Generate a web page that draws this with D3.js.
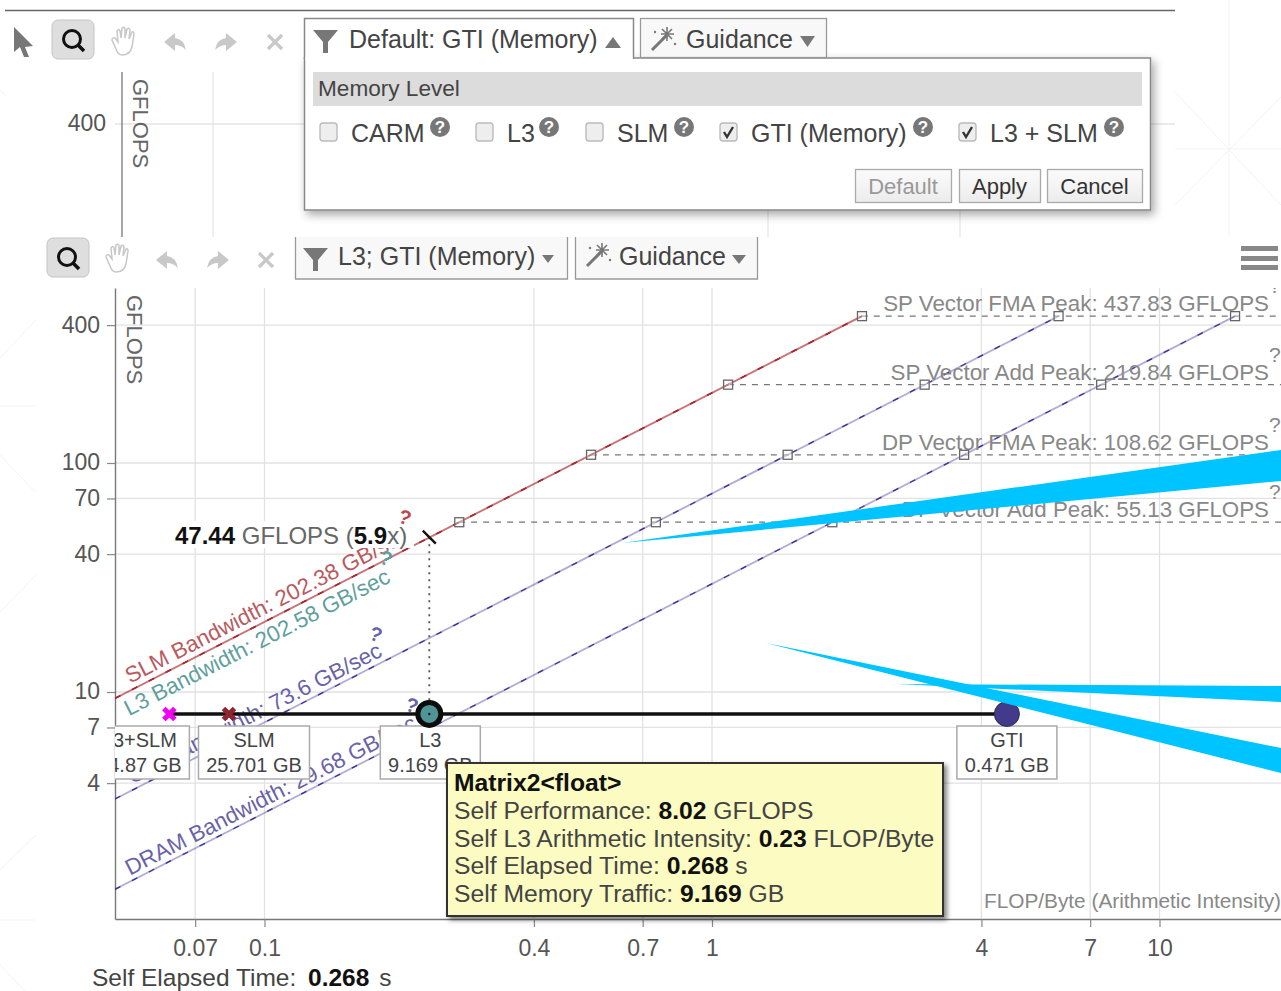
<!DOCTYPE html>
<html>
<head>
<meta charset="utf-8">
<script src="https://d3js.org/d3.v7.min.js"></script>
<style>
  html, body { margin: 0; padding: 0; background: #fff; }
  svg { display: block; }
  text { font-family: "Liberation Sans", Arial, sans-serif; }
</style>
</head>
<body>
<div id="my_dataviz"></div>
<script>
// roofs
var roofNames = ["SLM", "L3", "GTI", "DRAM"];
var roofValues = [202.38, 202.58, 73.6, 29.68];
// peaks
var peakNames = ["SP Vector FMA Peak", "SP Vector Add Peak", "DP Vector FMA Peak", "DP Vector Add Peak"];
var peakValues = [437.83, 219.84, 108.62, 55.13];
// memory levels of the selected loop
var levelNames = ["L3+SLM", "SLM", "L3", "GTI"];
var levelTraffic = ["34.87 GB", "25.701 GB", "9.169 GB", "0.471 GB"];
var levelIntensity = [0.0613, 0.0833, 0.2335, 4.56];
var selfGflops = 8.02;
var projectedGflops = 47.44;
// ticks
var xTicks = [0.07, 0.1, 0.4, 0.7, 1, 4, 7, 10];
var yTicks = [400, 100, 70, 40, 10, 7, 4];
var memoryOptions = ["CARM", "L3", "SLM", "GTI (Memory)", "L3 + SLM"];
var memoryChecked = [false, false, false, true, true];

var width = 1281, height = 991;
var svg = d3.select("#my_dataviz").append("svg").attr("width", width).attr("height", height);
var defs = svg.append("defs");

var shadow = defs.append("filter").attr("id", "shadow")
  .attr("x", "-5%").attr("y", "-10%").attr("width", "112%").attr("height", "125%");
shadow.append("feDropShadow").attr("dx", 3).attr("dy", 4).attr("stdDeviation", 5)
  .attr("flood-color", "#000").attr("flood-opacity", 0.35);
var shadow2 = defs.append("filter").attr("id", "shadowTip")
  .attr("x", "-5%").attr("y", "-10%").attr("width", "112%").attr("height", "125%");
shadow2.append("feDropShadow").attr("dx", 3).attr("dy", 3).attr("stdDeviation", 2.5)
  .attr("flood-color", "#000").attr("flood-opacity", 0.5);
var btnGrad = defs.append("linearGradient").attr("id", "btn").attr("x2", 0).attr("y2", 1);
btnGrad.append("stop").attr("offset", "0%").attr("stop-color", "#fbfbfb");
btnGrad.append("stop").attr("offset", "100%").attr("stop-color", "#ececec");
defs.append("clipPath").attr("id", "plotClip").append("rect")
  .attr("x", 115).attr("y", 288).attr("width", width - 115).attr("height", 632);

// faint page background
var bgLines = [
  [1175,149,1281,149],[1229,0,1229,237],[1175,92,1281,205],[1175,205,1281,97],
  [0,406,36,406],[36,320,0,358],[0,455,36,493],[36,575,0,612],[36,835,0,870],
  [0,920,36,920],[0,965,25,991],[0,90,6,96]
];
svg.append("g").selectAll("line").data(bgLines).enter().append("line")
  .attr("x1", d => d[0]).attr("y1", d => d[1]).attr("x2", d => d[2]).attr("y2", d => d[3])
  .attr("stroke", "#f3f3f3").attr("stroke-width", 1);

// ---- chart behind the dialog ----
var back = svg.append("g");
back.append("line").attr("x1", 5).attr("x2", 1175).attr("y1", 10.5).attr("y2", 10.5)
  .attr("stroke", "#666").attr("stroke-width", 1.5);
[213, 768, 960].forEach(function(x) {
  back.append("line").attr("x1", x).attr("x2", x).attr("y1", 72).attr("y2", 237).attr("stroke", "#e4e4e4").attr("stroke-width", 1.2);
});
back.append("line").attr("x1", 115).attr("x2", 1175).attr("y1", 124).attr("y2", 124).attr("stroke", "#e4e4e4").attr("stroke-width", 1.5);
back.append("line").attr("x1", 122).attr("x2", 122).attr("y1", 72).attr("y2", 237).attr("stroke", "#777").attr("stroke-width", 1.3);
back.append("text").attr("x", 106).attr("y", 131).attr("text-anchor", "end").attr("font-size", 23).attr("fill", "#555").text("400");
back.append("text").attr("transform", "translate(133,79) rotate(90)").attr("font-size", 22).attr("fill", "#666").text("GFLOPS");

// ---- scales ----
var x = d3.scaleLog().domain([Math.pow(10, (115 - 712) / 447.5), Math.pow(10, (1281 - 712) / 447.5)]).range([115, 1281]);
var y = d3.scaleLog().domain([Math.pow(10, 1 + (692 - 919) / 229), Math.pow(10, 1 + (692 - 288) / 229)]).range([919, 288]);

var plot = svg.append("g");
var grid = plot.append("g");
grid.selectAll(".gx").data(xTicks).enter().append("line").attr("class", "gx")
  .attr("x1", d => x(d)).attr("x2", d => x(d)).attr("y1", 288).attr("y2", 919)
  .attr("stroke", "#e2e2e2").attr("stroke-width", 1.3);
grid.selectAll(".gy").data(yTicks).enter().append("line").attr("class", "gy")
  .attr("x1", 115).attr("x2", width).attr("y1", d => y(d)).attr("y2", d => y(d))
  .attr("stroke", "#e2e2e2").attr("stroke-width", 1.3);

var xAxis = plot.append("g").attr("transform", "translate(0,919)")
  .call(d3.axisBottom(x).tickValues(xTicks).tickFormat(d3.format("~g")).tickSize(8).tickSizeOuter(0).tickPadding(13));
var yAxis = plot.append("g").attr("transform", "translate(115,0)")
  .call(d3.axisLeft(y).tickValues(yTicks).tickFormat(d3.format("d")).tickSize(8).tickSizeOuter(0).tickPadding(7));
[xAxis, yAxis].forEach(function(a) {
  a.selectAll("text").attr("font-size", 23).attr("fill", "#555").style("font-family", "Liberation Sans");
  a.selectAll("line").attr("stroke", "#888").attr("stroke-width", 1.2);
  a.select(".domain").attr("stroke", "#777").attr("stroke-width", 1.4);
});
yAxis.selectAll("text").attr("dy", "0.3em");

plot.append("text").attr("transform", "translate(127,295) rotate(90)").attr("font-size", 22).attr("fill", "#666").text("GFLOPS");
plot.append("text").attr("x", 1281).attr("y", 908).attr("text-anchor", "end").attr("font-size", 20.8).attr("fill", "#888").text("FLOP/Byte (Arithmetic Intensity)");

var inner = plot.append("g").attr("clip-path", "url(#plotClip)");

var roofColor = { SLM: "#a8262c", L3: "#a8262c", GTI: "#3b2f96", DRAM: "#3b2f96" };
var labelColor = { SLM: "#b85a5e", L3: "#5f9f9d", GTI: "#6a62a8", DRAM: "#6a62a8" };
// the text sits under the L3 line, the others over theirs
var labelDy = { SLM: -7, L3: 25, GTI: -6, DRAM: -6 };
var angle = -Math.atan((229 / 447.5)) * 180 / Math.PI;
var maxPeak = d3.max(peakValues);

// L3 and SLM are practically the same line, SLM is drawn last
[1, 0, 2, 3].forEach(function(i) {
  var n = roofNames[i], bw = roofValues[i];
  var x0 = x.domain()[0], x1 = maxPeak / bw;
  var line = inner.append("g");
  line.append("line")
    .attr("x1", x(x0)).attr("y1", y(bw * x0)).attr("x2", x(x1)).attr("y2", y(maxPeak))
    .attr("stroke", roofColor[n]).attr("stroke-opacity", 0.4).attr("stroke-width", 1.8);
  line.append("line")
    .attr("x1", x(x0)).attr("y1", y(bw * x0)).attr("x2", x(x1)).attr("y2", y(maxPeak))
    .attr("stroke", roofColor[n]).attr("stroke-dasharray", "6 13").attr("stroke-width", 1.3);
});

// peak levels
peakValues.forEach(function(p, i) {
  var x0 = p / d3.max(roofValues);
  inner.append("line").attr("x1", x(x0)).attr("x2", width).attr("y1", y(p)).attr("y2", y(p))
    .attr("stroke", "#777").attr("stroke-width", 1.2).attr("stroke-dasharray", "6 6");
  inner.append("text").attr("x", 1269).attr("y", y(p) - 5).attr("text-anchor", "end")
    .attr("font-size", 22.35).attr("fill", "#888").text(peakNames[i] + ": " + d3.format(".2f")(p) + " GFLOPS");
  inner.append("text").attr("x", 1269).attr("y", y(p) - 23).attr("font-size", 21).attr("fill", "#888").text("?");
  [roofValues[0], roofValues[2], roofValues[3]].forEach(function(bw) {
    inner.append("rect").attr("x", x(p / bw) - 4.5).attr("y", y(p) - 4.5).attr("width", 9).attr("height", 9)
      .attr("fill", "#fff").attr("fill-opacity", 0.35).attr("stroke", "#666").attr("stroke-width", 1.3);
  });
});

// roof labels, x is where the text starts
var labelStartX = { SLM: 130, L3: 129, GTI: 132, DRAM: 130 };
roofNames.forEach(function(n, i) {
  var px = labelStartX[n], ai = x.invert(px), py = y(roofValues[i] * ai) + labelDy[n];
  inner.append("text")
    .attr("transform", "translate(" + px + "," + py + ") rotate(" + angle + ")")
    .attr("font-size", 22.3).attr("fill", labelColor[n])
    .text(n + " Bandwidth: " + roofValues[i] + " GB/sec");
});

// white box of the projection label cuts the text underneath
inner.append("rect").attr("x", 172).attr("y", 521).attr("width", 242).attr("height", 27).attr("fill", "#fff");
var proj = inner.append("text").attr("x", 175).attr("y", 544).attr("font-size", 24).attr("fill", "#666");
proj.append("tspan").attr("font-weight", "bold").attr("fill", "#111").text(projectedGflops);
proj.append("tspan").text(" GFLOPS (");
proj.append("tspan").attr("font-weight", "bold").attr("fill", "#111").text("5.9");
proj.append("tspan").text("x)");

// small question marks at the end of the roof labels
var marks = [[397, 522, "#c0464a"], [378, 563, "#5f9f9d"], [368, 639, "#6a62a8"], [404, 710, "#6a62a8"]];
marks.forEach(function(m) {
  inner.append("text").attr("transform", "translate(" + m[0] + "," + m[1] + ") rotate(18)")
    .attr("font-size", 20).attr("font-weight", "bold").attr("fill", m[2]).text("?");
});

var l3x = x(levelIntensity[2]);
inner.append("line").attr("x1", l3x).attr("x2", l3x).attr("y1", y(projectedGflops)).attr("y2", y(selfGflops))
  .attr("stroke", "#555").attr("stroke-width", 1.8).attr("stroke-dasharray", "2 5");
inner.append("line").attr("x1", l3x - 6.5).attr("x2", l3x + 6.5).attr("y1", y(projectedGflops) - 6.5).attr("y2", y(projectedGflops) + 6.5)
  .attr("stroke", "#111").attr("stroke-width", 2.4);

// memory level boxes
var boxW = [100, 111, 100, 100];
var boxShift = [-30, 25, 1, 0];
levelNames.forEach(function(n, i) {
  var cx = x(levelIntensity[i]) + boxShift[i];
  var g = inner.append("g");
  g.append("rect").attr("x", cx - boxW[i] / 2).attr("y", 726).attr("width", boxW[i]).attr("height", 53)
    .attr("fill", "#fff").attr("stroke", "#aaa").attr("stroke-width", 1.5);
  g.append("text").attr("x", cx).attr("y", 747).attr("text-anchor", "middle").attr("font-size", 20).attr("fill", "#444").text(n);
  g.append("text").attr("x", cx).attr("y", 772).attr("text-anchor", "middle").attr("font-size", 20).attr("fill", "#444").text(levelTraffic[i]);
});

// memory level line and markers
var py = y(selfGflops);
inner.append("line").attr("x1", x(levelIntensity[0])).attr("x2", x(levelIntensity[3])).attr("y1", py).attr("y2", py)
  .attr("stroke", "#111").attr("stroke-width", 3.5);
function cross(ai, color) {
  var cx = x(ai), s = 5.5;
  inner.append("path").attr("d", "M" + (cx - s) + "," + (py - s) + "L" + (cx + s) + "," + (py + s) + "M" + (cx + s) + "," + (py - s) + "L" + (cx - s) + "," + (py + s))
    .attr("stroke", color).attr("stroke-width", 5).attr("fill", "none");
}
cross(levelIntensity[0], "#f400f4");
cross(levelIntensity[1], "#8e2430");
inner.append("circle").attr("cx", l3x).attr("cy", py).attr("r", 11.5).attr("fill", "#4f9596").attr("stroke", "#0c0c0c").attr("stroke-width", 5);
inner.append("circle").attr("cx", l3x).attr("cy", py).attr("r", 1.3).attr("fill", "#123");
inner.append("circle").attr("cx", x(levelIntensity[3])).attr("cy", py).attr("r", 12.5).attr("fill", "#443a8c").attr("stroke", "#2a2a50").attr("stroke-width", 1);

// tooltip
var tip = svg.append("g");
tip.append("rect").attr("x", 447).attr("y", 763).attr("width", 496).attr("height", 153)
  .attr("fill", "#fbfbc2").attr("stroke", "#333").attr("stroke-width", 2).attr("filter", "url(#shadowTip)");
tip.append("text").attr("x", 454).attr("y", 791).attr("font-size", 24.7).attr("font-weight", "bold").attr("fill", "#111").text("Matrix2<float>");
var tipLines = [
  ["Self Performance: ", "8.02", " GFLOPS"],
  ["Self L3 Arithmetic Intensity: ", "0.23", " FLOP/Byte"],
  ["Self Elapsed Time: ", "0.268", " s"],
  ["Self Memory Traffic: ", "9.169", " GB"]
];
tipLines.forEach(function(l, i) {
  var t = tip.append("text").attr("x", 454).attr("y", 819 + i * 27.7).attr("font-size", 24.7).attr("fill", "#444");
  t.append("tspan").text(l[0]);
  t.append("tspan").attr("font-weight", "bold").attr("fill", "#111").text(l[1]);
  t.append("tspan").text(l[2]);
});

var bottom = svg.append("text").attr("x", 92).attr("y", 985.5).attr("font-size", 24.5).attr("fill", "#444");
bottom.append("tspan").text("Self Elapsed Time:");
bottom.append("tspan").attr("x", 308).attr("font-weight", "bold").attr("fill", "#111").text("0.268");
bottom.append("tspan").attr("dx", 10).text("s");

// ---- toolbars ----
function qIcon(g, cx, cy) {
  g.append("rect").attr("x", cx - 21).attr("y", cy - 20).attr("width", 42).attr("height", 39).attr("rx", 6)
    .attr("fill", "#dedede").attr("stroke", "#c4c4c4");
  g.append("circle").attr("cx", cx - 1).attr("cy", cy - 1).attr("r", 8.5).attr("fill", "none").attr("stroke", "#111").attr("stroke-width", 3);
  g.append("line").attr("x1", cx + 5).attr("y1", cy + 5).attr("x2", cx + 11).attr("y2", cy + 11).attr("stroke", "#111").attr("stroke-width", 3.5);
}
function handIcon(g, cx, cy) {
  g.append("path")
    .attr("d", "M-8,8 L-12,-1 Q-12,-4 -9,-3 L-6,1 L-7,-10 Q-5,-13 -4,-10 L-3,-3 L-2,-13 Q0,-15 1,-12 L1,-3 L3,-12 Q5,-14 6,-11 L5,-2 L8,-9 Q10,-10 10,-7 L8,6 Q6,14 -2,14 Q-6,14 -8,8 Z")
    .attr("transform", "translate(" + cx + "," + cy + ")")
    .attr("fill", "#fff").attr("stroke", "#c8c8c8").attr("stroke-width", 1.5);
}
function arrowIcon(g, cx, cy, dir) {
  g.append("path").attr("d", "M-11,0 L0,-9 L0,-4 Q9,-3 11,8 Q6,3 0,3 L0,9 Z")
    .attr("transform", "translate(" + cx + "," + cy + ") scale(" + dir + ",1)").attr("fill", "#c8c8c8");
}
function xIcon(g, cx, cy) {
  g.append("path").attr("d", "M-7,-7L7,7M7,-7L-7,7").attr("transform", "translate(" + cx + "," + cy + ")")
    .attr("stroke", "#c8c8c8").attr("stroke-width", 3.2).attr("fill", "none");
}
function funnel(g, px, py2) {
  g.append("path").attr("d", "M0,0 L25,0 L15,12 L15,23 L10,23 L10,12 Z").attr("transform", "translate(" + px + "," + py2 + ")").attr("fill", "#777");
}
function wand(g, px, py2) {
  var w = g.append("g").attr("transform", "translate(" + px + "," + py2 + ")");
  w.append("path").attr("d", "M0,20 L15,5").attr("stroke", "#777").attr("stroke-width", 3).attr("fill", "none");
  w.append("path").attr("d", "M15,-3 L15,11 M9,4 L22,4 M10,-1 L20,9 M20,-1 L10,9").attr("stroke", "#777").attr("stroke-width", 1.6).attr("fill", "none");
  w.append("circle").attr("cx", 3).attr("cy", 2).attr("r", 1.2).attr("fill", "#777");
  w.append("circle").attr("cx", 23).attr("cy", 14).attr("r", 1.2).attr("fill", "#777");
}

var bar1 = svg.append("g");
bar1.append("path").attr("d", "M14,27 L33,46 L25,47 L29,57 L24,57 L20,47 L14,52 Z").attr("fill", "#777");
qIcon(bar1, 73, 40); handIcon(bar1, 124, 41); arrowIcon(bar1, 175, 42, 1); arrowIcon(bar1, 226, 42, -1); xIcon(bar1, 275, 42);

var bar2 = svg.append("g");
bar2.append("rect").attr("x", 0).attr("y", 237).attr("width", 1240).attr("height", 42).attr("fill", "#fff");
qIcon(bar2, 68, 258); handIcon(bar2, 118, 258); arrowIcon(bar2, 167, 260, 1); arrowIcon(bar2, 218, 260, -1); xIcon(bar2, 266, 260);
[[295.5, 272], [575.5, 182]].forEach(function(b) {
  bar2.append("path").attr("d", "M" + b[0] + ",237 V279 H" + (b[0] + b[1]) + " V237").attr("fill", "#f8f8f8").attr("stroke", "#999").attr("stroke-width", 1.3);
});
funnel(bar2, 303, 248);
bar2.append("text").attr("x", 338).attr("y", 265).attr("font-size", 25).attr("fill", "#444").text("L3; GTI (Memory)");
bar2.append("path").attr("d", "M542,255 L554,255 L548,263 Z").attr("fill", "#777");
wand(bar2, 587, 246);
bar2.append("text").attr("x", 619).attr("y", 265).attr("font-size", 25).attr("fill", "#444").text("Guidance");
bar2.append("path").attr("d", "M732,255 L746,255 L739,264 Z").attr("fill", "#777");
[246, 256, 265].forEach(function(yy) {
  bar2.append("rect").attr("x", 1241).attr("y", yy).attr("width", 37).attr("height", 5).attr("fill", "#888");
});

// ---- filter dialog ----
var dlg = svg.append("g");
dlg.append("rect").attr("x", 304.5).attr("y", 58).attr("width", 846).attr("height", 152)
  .attr("fill", "#fff").attr("stroke", "#888").attr("stroke-width", 1.5).attr("filter", "url(#shadow)");
dlg.append("path").attr("d", "M304.5,59 V18.5 H633.5 V59").attr("fill", "#fff").attr("stroke", "#888").attr("stroke-width", 1.5);
dlg.append("rect").attr("x", 305.5).attr("y", 57).attr("width", 327).attr("height", 3).attr("fill", "#fff");
funnel(dlg, 313, 30);
dlg.append("text").attr("x", 349).attr("y", 48).attr("font-size", 25).attr("fill", "#444").text("Default: GTI (Memory)");
dlg.append("path").attr("d", "M605,48 L621,48 L613,37 Z").attr("fill", "#777");

dlg.append("rect").attr("x", 640.5).attr("y", 18.5).attr("width", 186).attr("height", 39).attr("fill", "#f8f8f8").attr("stroke", "#999").attr("stroke-width", 1.3);
wand(dlg, 652, 30);
dlg.append("text").attr("x", 686).attr("y", 48).attr("font-size", 25).attr("fill", "#444").text("Guidance");
dlg.append("path").attr("d", "M800,36 L815,36 L807.5,47 Z").attr("fill", "#777");

dlg.append("rect").attr("x", 313).attr("y", 72).attr("width", 829).attr("height", 34).attr("fill", "#dcdcdc");
dlg.append("text").attr("x", 318).attr("y", 96).attr("font-size", 22.6).attr("fill", "#444").text("Memory Level");

var optBox = [320, 476, 586, 720, 959], optText = [351, 507, 617, 751, 990], optHelp = [440, 549, 684, 923, 1114];
memoryOptions.forEach(function(name, i) {
  dlg.append("rect").attr("x", optBox[i]).attr("y", 123).attr("width", 17).attr("height", 18).attr("rx", 3)
    .attr("fill", "#eee").attr("stroke", "#bbb").attr("stroke-width", 1.4);
  if (memoryChecked[i]) {
    dlg.append("path").attr("d", "M" + (optBox[i] + 4) + ",132 l3,5 l6,-10").attr("fill", "none").attr("stroke", "#333").attr("stroke-width", 2.4);
  }
  dlg.append("text").attr("x", optText[i]).attr("y", 142).attr("font-size", 25).attr("fill", "#444").text(name);
  dlg.append("circle").attr("cx", optHelp[i]).attr("cy", 127).attr("r", 10).attr("fill", "#777");
  dlg.append("text").attr("x", optHelp[i]).attr("y", 133).attr("text-anchor", "middle").attr("font-size", 17).attr("font-weight", "bold").attr("fill", "#fff").text("?");
});

var btns = [["Default", 855, 96, "#999"], ["Apply", 959, 81, "#333"], ["Cancel", 1047, 95, "#333"]];
btns.forEach(function(b) {
  dlg.append("rect").attr("x", b[1] + 0.5).attr("y", 169.5).attr("width", b[2]).attr("height", 33).attr("fill", "url(#btn)").attr("stroke", "#aaa").attr("stroke-width", 1.3);
  dlg.append("text").attr("x", b[1] + b[2] / 2).attr("y", 194).attr("text-anchor", "middle").attr("font-size", 22).attr("fill", b[3]).text(b[0]);
});

// ---- cyan streaks on top of the screenshot ----
var streaks = ["622,543 1281,450 1281,481", "766,643 1281,748 1281,773", "897,684 1281,686 1281,702"];
svg.append("g").selectAll("polygon").data(streaks).enter().append("polygon")
  .attr("points", d => d).attr("fill", "#00c4ff");
</script>
</body>
</html>
